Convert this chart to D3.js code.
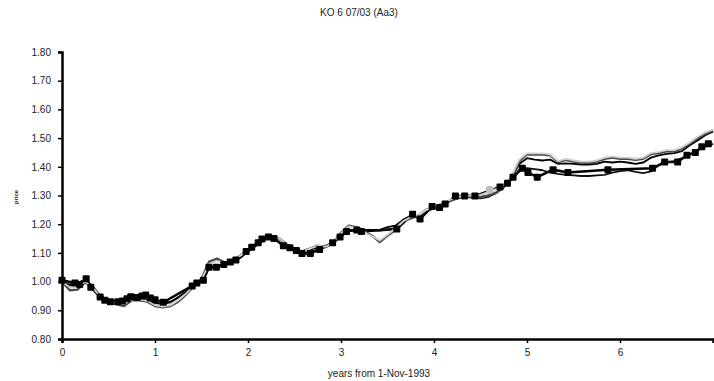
<!DOCTYPE html>
<html>
<head>
<meta charset="utf-8">
<script src="https://cdn.jsdelivr.net/npm/d3@7"></script>
<style>
  body { margin: 0; background: #fff; }
  svg { display: block; font-family: "Liberation Sans", Arial, sans-serif; }
</style>
</head>
<body>
<div id="chart"></div>
<script>
// monthly model grid, years from 1-Nov-1993
const months = d3.range(0, 85);

const modelLight = [1.000, .980, .982, 1.000, .978, .948, .930, .926, .922, .938, .938, .933,
  .918, .913, .918, .935, .958, .985, 1.008, 1.062, 1.072, 1.064, 1.074, 1.090,
  1.110, 1.130, 1.150, 1.160, 1.150, 1.130, 1.110, 1.102, 1.115, 1.125, 1.122, 1.135,
  1.168, 1.192, 1.188, 1.172, 1.158, 1.143, 1.163, 1.185, 1.210, 1.225, 1.230, 1.250,
  1.260, 1.270, 1.285, 1.295, 1.300, 1.300, 1.302, 1.312, 1.322, 1.337, 1.368, 1.425,
  1.447, 1.447, 1.447, 1.443, 1.420, 1.428, 1.422, 1.418, 1.418, 1.422, 1.432, 1.436,
  1.432, 1.432, 1.428, 1.432, 1.448, 1.452, 1.458, 1.458, 1.468, 1.485, 1.505, 1.520, 1.530];

const modelGray = [1.000, .970, .972, .998, .975, .945, .928, .922, .915, .935, .935, .930,
  .915, .910, .915, .930, .955, .983, 1.010, 1.070, 1.080, 1.066, 1.075, 1.090,
  1.110, 1.130, 1.150, 1.160, 1.150, 1.130, 1.110, 1.105, 1.115, 1.125, 1.120, 1.135,
  1.170, 1.195, 1.190, 1.175, 1.160, 1.138, 1.160, 1.180, 1.210, 1.220, 1.230, 1.250,
  1.260, 1.270, 1.280, 1.290, 1.295, 1.295, 1.295, 1.300, 1.310, 1.330, 1.360, 1.420,
  1.443, 1.443, 1.443, 1.440, 1.416, 1.424, 1.418, 1.414, 1.414, 1.418, 1.428, 1.432,
  1.428, 1.428, 1.424, 1.428, 1.444, 1.448, 1.454, 1.454, 1.464, 1.481, 1.500, 1.515, 1.526];

const modelBlack = [1.000, .985, .990, 1.005, .980, .950, .935, .930, .928, .940, .940, .938,
  .925, .922, .928, .945, .965, .990, 1.005, 1.050, 1.055, 1.060, 1.070, 1.085,
  1.105, 1.125, 1.145, 1.155, 1.148, 1.130, 1.115, 1.105, 1.110, 1.120, 1.125, 1.135,
  1.160, 1.180, 1.180, 1.180, 1.180, 1.180, 1.190, 1.195, 1.215, 1.225, 1.225, 1.245,
  1.255, 1.265, 1.280, 1.295, 1.300, 1.300, 1.305, 1.315, 1.325, 1.335, 1.360, 1.410,
  1.430, 1.425, 1.422, 1.425, 1.410, 1.412, 1.410, 1.408, 1.408, 1.410, 1.418, 1.415,
  1.418, 1.415, 1.410, 1.415, 1.432, 1.440, 1.445, 1.448, 1.455, 1.475, 1.492, 1.510, 1.522];

const modelLow = [1.000, .990, .995, 1.008, .982, .948, .933, .930, .932, .942, .946, .945,
  .935, .928, .930, .945, .965, .988, 1.002, 1.048, 1.050, 1.058, 1.068, 1.082,
  1.105, 1.125, 1.145, 1.155, 1.150, 1.128, 1.112, 1.100, 1.102, 1.112, 1.122, 1.135,
  1.158, 1.175, 1.180, 1.178, 1.180, 1.178, 1.182, 1.185, 1.215, 1.230, 1.222, 1.245,
  1.258, 1.262, 1.280, 1.296, 1.298, 1.292, 1.290, 1.295, 1.308, 1.328, 1.355, 1.390,
  1.395, 1.392, 1.388, 1.380, 1.375, 1.372, 1.370, 1.368, 1.368, 1.370, 1.372, 1.380,
  1.385, 1.388, 1.382, 1.378, 1.384, 1.405, 1.415, 1.420, 1.430, 1.442, 1.458, 1.470, 1.480];

// market quotes (irregular dates)
const quoteYears = [0, 0.14, 0.19, 0.26, 0.31, 0.41, 0.46, 0.52, 0.60, 0.65, 0.70, 0.74, 0.81,
  0.86, 0.90, 0.95, 1.00, 1.09, 1.40, 1.45, 1.52, 1.58, 1.66, 1.74, 1.81, 1.87, 1.98,
  2.04, 2.11, 2.15, 2.22, 2.28, 2.38, 2.45, 2.52, 2.58, 2.67, 2.77, 2.91, 2.99, 3.06,
  3.17, 3.22, 3.60, 3.77, 3.85, 3.98, 4.06, 4.12, 4.23, 4.33, 4.44, 4.71, 4.79, 4.85,
  4.95, 5.01, 5.11, 5.28, 5.44, 5.87, 6.35, 6.48, 6.62, 6.72, 6.81, 6.88, 6.95];
const quotePrices = [1.005, .995, .990, 1.010, .980, .946, .935, .930, .930, .932, .940, .947, .945,
  .950, .953, .943, .937, .928, .985, .995, 1.005, 1.050, 1.050, 1.060, 1.068, 1.075, 1.105,
  1.120, 1.135, 1.148, 1.155, 1.150, 1.125, 1.118, 1.108, 1.098, 1.098, 1.112, 1.135, 1.155, 1.175,
  1.180, 1.175, 1.183, 1.235, 1.218, 1.262, 1.258, 1.270, 1.298, 1.298, 1.298, 1.330, 1.343, 1.364,
  1.395, 1.380, 1.364, 1.390, 1.380, 1.390, 1.395, 1.417, 1.417, 1.440, 1.450, 1.470, 1.480];

const grayYears = [4.60];
const grayPrices = [1.320];

const yTicks = [0.8, 0.9, 1.0, 1.1, 1.2, 1.3, 1.4, 1.5, 1.6, 1.7, 1.8];
const xTicks = [0, 1, 2, 3, 4, 5, 6];

const width = 714, height = 381;
const svg = d3.select("#chart").append("svg")
  .attr("width", width)
  .attr("height", height);

const x = d3.scaleLinear().domain([0, 7]).range([62, 713]);
const y = d3.scaleLinear().domain([0.8, 1.8]).range([339, 52]);

const line = d3.line().x(d => x(d[0])).y(d => y(d[1]));

function drawModel(values, color, w) {
  svg.append("path")
    .datum(months.map((m, i) => [m / 12, values[i]]))
    .attr("fill", "none")
    .attr("stroke", color)
    .attr("stroke-width", w)
    .attr("stroke-linejoin", "round")
    .attr("d", line);
}

const quotes = quoteYears.map((t, i) => [t, quotePrices[i]]);
svg.append("path")
  .datum(quotes)
  .attr("fill", "none")
  .attr("stroke", "#000")
  .attr("stroke-width", 2.5)
  .attr("d", line);

drawModel(modelLow, "#111", 1.8);
drawModel(modelBlack, "#000", 1.8);
drawModel(modelGray, "#4a4a4a", 2.4);
drawModel(modelLight, "#d0d0d0", 1.8);

svg.append("g").selectAll("rect")
  .data(quotes)
  .join("rect")
  .attr("x", d => x(d[0]) - 3.5)
  .attr("y", d => y(d[1]) - 3.5)
  .attr("width", 7)
  .attr("height", 7)
  .attr("rx", 1)
  .attr("fill", "#000");

svg.append("g").selectAll("circle")
  .data(grayYears.map((t, i) => [t, grayPrices[i]]))
  .join("circle")
  .attr("cx", d => x(d[0]))
  .attr("cy", d => y(d[1]))
  .attr("r", 4)
  .attr("fill", "#bdbdbd");

// axes
const yAxis = svg.append("g")
  .attr("transform", `translate(${x(0)},0)`)
  .call(d3.axisLeft(y).tickValues(yTicks).tickFormat(d3.format(".2f")).tickSize(4).tickPadding(7));
const xAxis = svg.append("g")
  .attr("transform", `translate(0,${y(0.8)})`)
  .call(d3.axisBottom(x).tickValues(xTicks).tickFormat(d3.format("d")).tickSize(4).tickPadding(6));

[yAxis, xAxis].forEach(g => {
  g.select(".domain").attr("stroke", "#000").attr("stroke-width", 2.5);
  g.selectAll(".tick line").attr("stroke", "#000").attr("stroke-width", 1.5);
  g.selectAll(".tick text").attr("fill", "#222").style("font-size", "10px")
    .style("font-family", "'Liberation Sans', Arial, sans-serif");
});

svg.append("text")
  .attr("x", 359).attr("y", 16)
  .attr("text-anchor", "middle")
  .attr("fill", "#222")
  .style("font-size", "10px")
  .text("KO 6 07/03 (Aa3)");

svg.append("text")
  .attr("x", 379).attr("y", 377)
  .attr("text-anchor", "middle")
  .attr("fill", "#222")
  .style("font-size", "10px")
  .text("years from 1-Nov-1993");

svg.append("text")
  .attr("transform", "translate(18,197) rotate(-90)")
  .attr("text-anchor", "middle")
  .attr("fill", "#222")
  .style("font-size", "6px")
  .style("font-weight", "bold")
  .text("price");
</script>
</body>
</html>
